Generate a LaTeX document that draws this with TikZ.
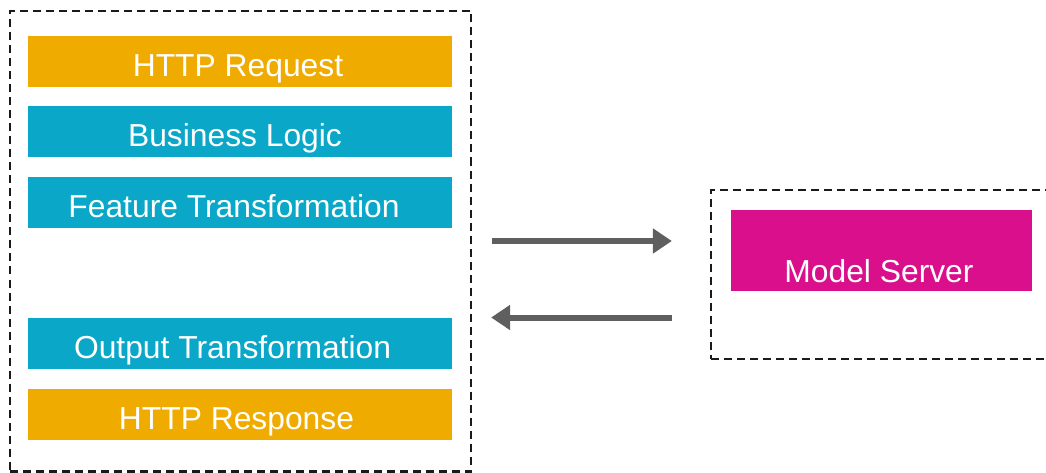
\documentclass[tikz,border=0pt]{standalone}
\usepackage{fontspec}
\setmainfont{Liberation Sans}
\usetikzlibrary{arrows.meta}

\definecolor{reqorange}{RGB}{240,171,0}
\definecolor{stepteal}{RGB}{10,167,200}
\definecolor{servermag}{RGB}{217,15,140}
\definecolor{arrowgrey}{RGB}{95,95,95}
\definecolor{framegrey}{RGB}{26,26,26}

\tikzset{
  frame/.style={draw=framegrey, line width=2.2pt, dash pattern=on 8pt off 5pt,
    rectangle, inner sep=0pt},
  bar/.style={rectangle, inner sep=0pt, minimum width=424pt, minimum height=51pt},
  orangebar/.style={bar, fill=reqorange},
  tealbar/.style={bar, fill=stepteal},
  caption/.style={text=white, anchor=base, inner sep=0pt,
    font=\fontsize{31.8}{36}\selectfont},
  flow/.style={draw=arrowgrey, line width=6pt,
    -{Triangle[length=19pt,width=24pt]}}
}

\begin{document}
\begin{tikzpicture}[x=1pt, y=-1pt]
  \useasboundingbox (0,0) rectangle (1046,473);

  % application container with its processing steps
  \node[frame, minimum width=461pt, minimum height=460.5pt] (client) at (240.5,241.25) {};

  \node[orangebar] (request)  at (240,61.5)  {};
  \node[tealbar]   (business) at (240,131.5) {};
  \node[tealbar]   (feature)  at (240,202.5) {};
  \node[tealbar]   (output)   at (240,343.5) {};
  \node[orangebar] (response) at (240,414.5) {};

  \node[caption] (requestlbl)  at (238,77)  {HTTP Request};
  \node[caption] (businesslbl) at (235,147) {Business Logic};
  \node[caption] (featurelbl)  at (234,217) {Feature Transformation};
  \node[caption] (outputlbl)   at (232.5,358) {Output Transformation};
  \node[caption] (responselbl) at (236.5,429) {HTTP Response};

  % model serving container
  \node[frame, minimum width=340pt, minimum height=169pt] (server) at (881,274.5) {};
  \node[rectangle, fill=servermag, inner sep=0pt, minimum width=301pt,
    minimum height=80.5pt] (model) at (881.5,250.4) {};
  \node[caption] (modellbl) at (879,282) {Model Server};

  % request and response flow between the containers
  \draw[flow] ([xshift=20pt]client.east |- 0,241) -- ([xshift=-38pt]server.west |- 0,241);
  \draw[flow] ([xshift=-38pt]server.west |- 0,317.5) -- ([xshift=19pt]client.east |- 0,317.5);
\end{tikzpicture}
\end{document}
